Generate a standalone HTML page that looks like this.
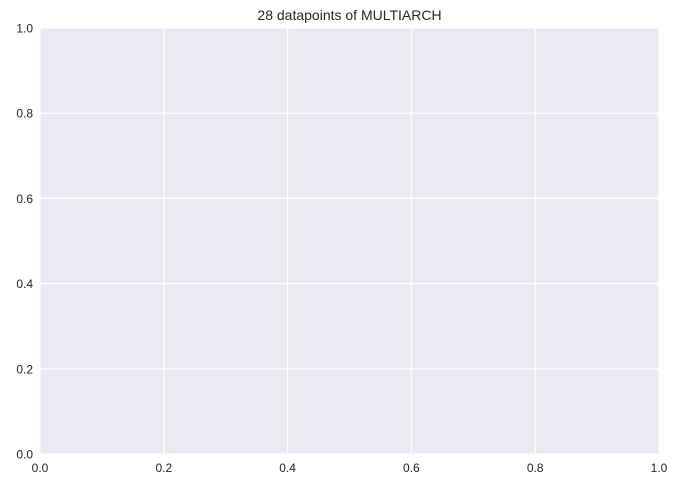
<!DOCTYPE html>
<html><head><meta charset="utf-8"><style>
html,body{margin:0;padding:0;background:#fff;}
svg{display:block;font-family:"Liberation Sans","DejaVu Sans",sans-serif;}
</style></head><body>
<svg id="chart" width="678" height="487"></svg>
<script>
const xTicks=[0.0,0.2,0.4,0.6,0.8,1.0];
const yTicks=[0.0,0.2,0.4,0.6,0.8,1.0];
const titleText="28 datapoints of MULTIARCH";
const L=40,R=659,T=28,B=454;
const sx=v=>L+(v-0)/(1-0)*(R-L);
const sy=v=>B-(v-0)/(1-0)*(B-T);
const svg=document.getElementById('chart');
const NS='http://www.w3.org/2000/svg';
function mk(tag,attrs){const e=document.createElementNS(NS,tag);for(const k in attrs)e.setAttribute(k,attrs[k]);svg.appendChild(e);return e;}
const bg=mk('rect',{x:L,y:T,width:R-L,height:B-T,fill:'#EAEAF2'});


xTicks.forEach(v=>{
  const g=mk('line',{x1:sx(v),x2:sx(v),y1:T,y2:B,stroke:'#fff','stroke-width':1.25});
  
  
  const t=mk('text',{x:sx(v),y:B+18,'text-anchor':'middle','font-size':12,fill:'#262626'});
  t.textContent=v.toFixed(1);
  
  
});
yTicks.forEach(v=>{
  const g=mk('line',{x1:L,x2:R,y1:sy(v),y2:sy(v),stroke:'#fff','stroke-width':1.25});
  
  
  const t=mk('text',{x:L-7,y:sy(v)+4.5,'text-anchor':'end','font-size':12,fill:'#262626'});
  t.textContent=v.toFixed(1);
  
  
});
const tt=mk('text',{x:(L+R)/2,y:20,'text-anchor':'middle','font-size':14,fill:'#262626'});
tt.textContent=titleText;


</script>
</body></html>
